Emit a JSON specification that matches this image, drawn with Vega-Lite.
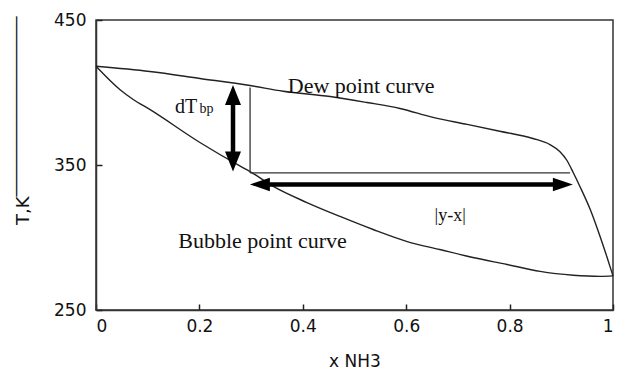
{
  "$schema": "https://vega.github.io/schema/vega-lite/v6.json",
  "width": 517,
  "height": 290,
  "autosize": {"type": "none"},
  "padding": {"left": 96, "top": 20, "right": 13, "bottom": 62},
  "background": "white",
  "config": {
    "view": {"stroke": "#333", "strokeWidth": 1.5},
    "axis": {
      "grid": false,
      "domainColor": "#333",
      "domainWidth": 1.5,
      "ticks": true,
      "tickColor": "#222",
      "tickWidth": 1.5,
      "tickSize": -6,
      "labelFont": "DejaVu Sans",
      "labelFontSize": 17,
      "labelColor": "#111",
      "titleFont": "DejaVu Sans",
      "titleFontWeight": "normal",
      "titleColor": "#111"
    }
  },
  "datasets": {
    "curves": [
      {"curve": "dew", "x": 0, "T": 418.1},
      {"curve": "dew", "x": 0.104, "T": 414.5},
      {"curve": "dew", "x": 0.201, "T": 409.7},
      {"curve": "dew", "x": 0.298, "T": 404.8},
      {"curve": "dew", "x": 0.362, "T": 400.9},
      {"curve": "dew", "x": 0.453, "T": 397.2},
      {"curve": "dew", "x": 0.524, "T": 393.1},
      {"curve": "dew", "x": 0.588, "T": 389.0},
      {"curve": "dew", "x": 0.652, "T": 382.8},
      {"curve": "dew", "x": 0.718, "T": 378.0},
      {"curve": "dew", "x": 0.781, "T": 373.3},
      {"curve": "dew", "x": 0.845, "T": 368.3},
      {"curve": "dew", "x": 0.878, "T": 364.1},
      {"curve": "dew", "x": 0.897, "T": 359.3},
      {"curve": "dew", "x": 0.911, "T": 353.1},
      {"curve": "dew", "x": 0.923, "T": 344.8},
      {"curve": "dew", "x": 0.936, "T": 335.2},
      {"curve": "dew", "x": 0.956, "T": 319.3},
      {"curve": "dew", "x": 0.975, "T": 300.7},
      {"curve": "dew", "x": 0.988, "T": 286.9},
      {"curve": "dew", "x": 1, "T": 273.5},
      {"curve": "bubble", "x": 0, "T": 418.1},
      {"curve": "bubble", "x": 0.046, "T": 402.1},
      {"curve": "bubble", "x": 0.072, "T": 395.2},
      {"curve": "bubble", "x": 0.104, "T": 388.3},
      {"curve": "bubble", "x": 0.201, "T": 365.5},
      {"curve": "bubble", "x": 0.279, "T": 349.2},
      {"curve": "bubble", "x": 0.298, "T": 345.5},
      {"curve": "bubble", "x": 0.342, "T": 335.4},
      {"curve": "bubble", "x": 0.408, "T": 324.1},
      {"curve": "bubble", "x": 0.472, "T": 314.5},
      {"curve": "bubble", "x": 0.536, "T": 305.5},
      {"curve": "bubble", "x": 0.602, "T": 297.2},
      {"curve": "bubble", "x": 0.665, "T": 291.7},
      {"curve": "bubble", "x": 0.729, "T": 286.2},
      {"curve": "bubble", "x": 0.795, "T": 281.4},
      {"curve": "bubble", "x": 0.859, "T": 276.6},
      {"curve": "bubble", "x": 0.923, "T": 274.0},
      {"curve": "bubble", "x": 0.975, "T": 273.2},
      {"curve": "bubble", "x": 1, "T": 273.5}
    ],
    "thin": [
      {"x": 0.298, "x2": 0.298, "T": 344.6, "T2": 403.4},
      {"x": 0.298, "x2": 0.917, "T": 344.6, "T2": 344.6}
    ],
    "shafts": [
      {"x": 0.33, "x2": 0.89, "T": 336.6, "T2": 336.6},
      {"x": 0.265, "x2": 0.265, "T": 395, "T2": 355}
    ],
    "heads": [
      {"dir": "left", "x": 0.317, "T": 336.6},
      {"dir": "right", "x": 0.903, "T": 336.6},
      {"dir": "up", "x": 0.265, "T": 398.3},
      {"dir": "down", "x": 0.265, "T": 352.4}
    ],
    "bigText": [
      {"label": "Dew point curve", "x": 0.371, "T": 400},
      {"label": "Bubble point curve", "x": 0.159, "T": 293.1}
    ],
    "dtText": [
      {"label": "dT", "x": 0.153, "T": 386.2}
    ],
    "subText": [
      {"label": "bp", "x": 0.2, "T": 386.0}
    ],
    "yxText": [
      {"label": "|y-x|", "x": 0.685, "T": 315}
    ]
  },
  "encoding": {
    "x": {
      "field": "x",
      "type": "quantitative",
      "scale": {"domain": [0, 1], "nice": false, "zero": false},
      "axis": {
        "values": [0, 0.2, 0.4, 0.6, 0.8, 1],
        "format": "~g",
        "labelPadding": 14,
        "title": "x NH3",
        "titleFontSize": 17,
        "titleBaseline": "top",
        "titleY": 43
      }
    },
    "y": {
      "field": "T",
      "type": "quantitative",
      "scale": {"domain": [250, 450], "nice": false, "zero": false},
      "axis": {
        "values": [250, 350, 450],
        "labelPadding": 16,
        "title": "T,K‾‾‾‾‾‾‾‾‾‾‾‾‾‾‾‾‾‾‾‾",
        "titleFontSize": 18,
        "titleAngle": -90,
        "titleAlign": "left",
        "titleBaseline": "alphabetic",
        "titleX": -68,
        "titleY": 204.5
      }
    }
  },
  "layer": [
    {
      "data": {"name": "curves"},
      "mark": {"type": "line", "color": "#222", "strokeWidth": 1.4, "interpolate": "monotone"},
      "encoding": {"detail": {"field": "curve", "type": "nominal"}}
    },
    {
      "data": {"name": "thin"},
      "mark": {"type": "rule", "color": "#333", "strokeWidth": 1.3},
      "encoding": {"x2": {"field": "x2"}, "y2": {"field": "T2"}}
    },
    {
      "data": {"name": "shafts"},
      "mark": {"type": "rule", "color": "#000", "strokeWidth": 4.5},
      "encoding": {"x2": {"field": "x2"}, "y2": {"field": "T2"}}
    },
    {
      "data": {"name": "heads"},
      "mark": {"type": "point", "filled": true, "color": "#000", "opacity": 1, "size": 400},
      "encoding": {
        "shape": {
          "field": "dir",
          "type": "nominal",
          "legend": null,
          "scale": {
            "domain": ["left", "right", "up", "down"],
            "range": [
              "M-1,0L1,-0.68L1,0.68Z",
              "M1,0L-1,-0.68L-1,0.68Z",
              "M0,-1L-0.8,1L0.8,1Z",
              "M0,1L-0.8,-1L0.8,-1Z"
            ]
          }
        }
      }
    },
    {
      "data": {"name": "bigText"},
      "mark": {"type": "text", "font": "Liberation Serif", "fontSize": 22, "align": "left", "baseline": "alphabetic", "color": "#111"},
      "encoding": {"text": {"field": "label"}}
    },
    {
      "data": {"name": "dtText"},
      "mark": {"type": "text", "font": "Liberation Serif", "fontSize": 20, "align": "left", "baseline": "alphabetic", "color": "#111"},
      "encoding": {"text": {"field": "label"}}
    },
    {
      "data": {"name": "subText"},
      "mark": {"type": "text", "font": "Liberation Serif", "fontSize": 14, "align": "left", "baseline": "alphabetic", "color": "#111"},
      "encoding": {"text": {"field": "label"}}
    },
    {
      "data": {"name": "yxText"},
      "mark": {"type": "text", "font": "Liberation Serif", "fontSize": 18, "align": "center", "baseline": "middle", "color": "#111"},
      "encoding": {"text": {"field": "label"}}
    }
  ]
}
